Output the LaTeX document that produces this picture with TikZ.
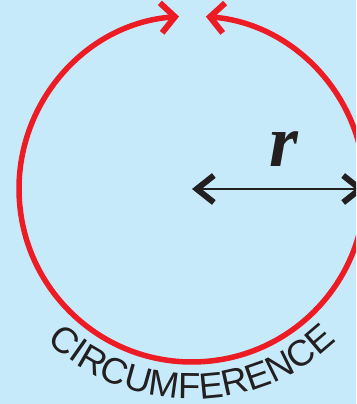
\documentclass[tikz,border=0pt]{standalone}
\usepackage{fontspec}
\newfontfamily\lsans{Liberation Sans}
\newfontfamily\lserif{Liberation Serif}
\usetikzlibrary{arrows.meta,decorations.text,calc}
\definecolor{bgblue}{RGB}{199,234,250}
\definecolor{cred}{RGB}{237,28,36}
\definecolor{cblack}{RGB}{35,31,32}
\begin{document}
\begin{tikzpicture}[x=1pt,y=1pt,
  redtip/.tip={Straight Barb[length=14pt,width=30pt,line width=6pt,sharp]},
  blacktip/.tip={Straight Barb[length=17pt,width=27pt,line width=6pt,sharp]},
  circline/.style={draw=cred, line width=5.5pt, redtip-redtip},
  radline/.style={draw=cblack, line width=2pt, blacktip-blacktip},
  rlabel/.style={inner sep=0pt, text=cblack, font=\lserif\bfseries\itshape\fontsize{74}{80}\selectfont}]
\useasboundingbox (0,0) rectangle (356,404);
\fill[bgblue] (0,0) rectangle (356,404);
\clip (0,0) rectangle (356,404);
\coordinate (O) at (192,215);
\coordinate (R) at ($(O)+(173,0)$);
\path[circline] (O) ++(94.3:173) arc (94.3:445.4:173);
\path[radline] (O) -- (R);
\node[rlabel] (r) at (284,255) {r};
\path[decorate, decoration={text along path, text align=center, text color=cblack,
  text={|\lsans\fontsize{36.5}{40}\selectfont|CIRCUMFERENCE}}]
  (O) ++(180:210) arc (180:360:210);
\end{tikzpicture}
\end{document}
